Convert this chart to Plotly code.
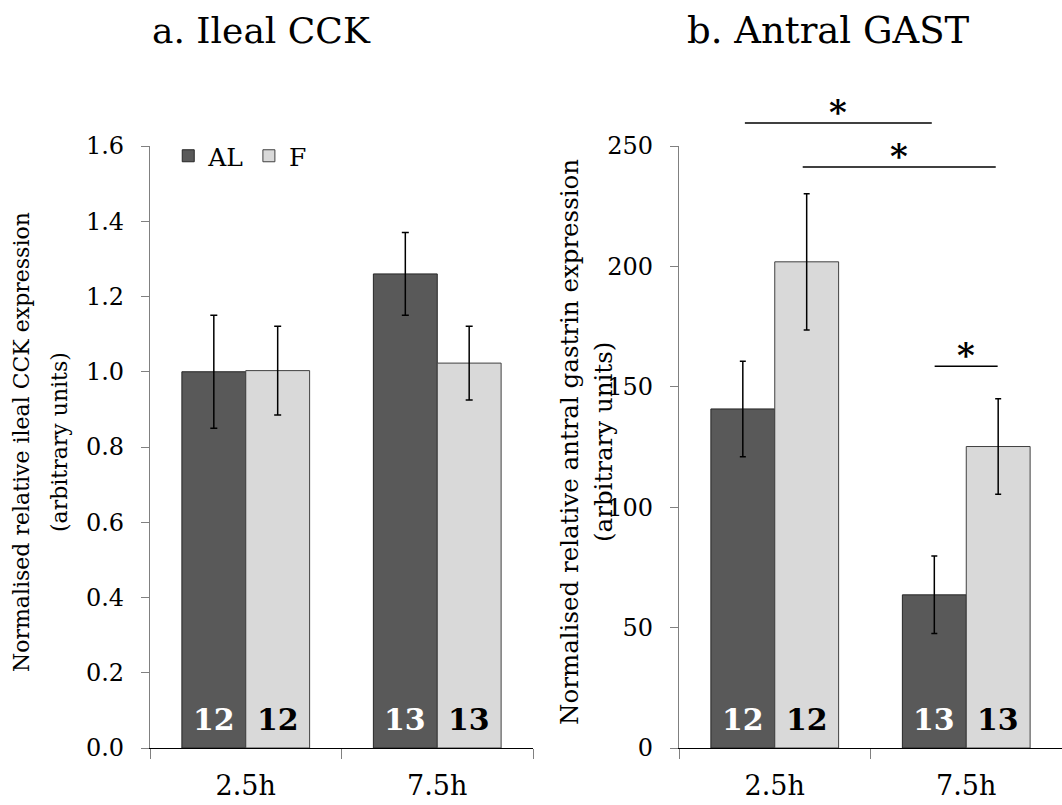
import plotly.graph_objects as go

# ---- data ----
categories = ["2.5h", "7.5h"]
groups = ["AL", "F"]

cck_al = [1.00, 1.26]
cck_al_err = [0.15, 0.11]
cck_f = [1.003, 1.023]
cck_f_err = [0.118, 0.098]

gast_al = [140.8, 63.6]
gast_al_err = [19.8, 16.1]
gast_f = [201.9, 125.2]
gast_f_err = [28.3, 19.8]

n_al = ["12", "13"]
n_f = ["12", "13"]

# significance brackets in right panel: (x start, x end, y level in data units)
sig_x0 = [-0.156, 0.146, 0.835]
sig_x1 = [0.820, 1.154, 1.164]
sig_y = [259.5, 241.3, 158.5]

cck_range = [0, 1.6]
gast_range = [0, 250]

FONT = "DejaVu Serif"
DARK = "#595959"
LIGHT = "#D9D9D9"

# plot geometry helpers (pixel -> paper)
L, R, T, B = 150, 0, 146, 57
PW, PH = 1062 - L - R, 805 - T - B


def px(xp):
    return (xp - L) / PW


fig = go.Figure()


def add_bars(xa, ya, al, al_err, f, f_err, show, ew):
    fig.add_trace(go.Bar(
        x=categories, y=al, name="AL", xaxis=xa, yaxis=ya,
        marker=dict(color=DARK, line=dict(color="#262626", width=1)),
        error_y=dict(type="data", array=al_err, color="black", thickness=1.5, width=ew),
        showlegend=show, legendgroup="AL"))
    fig.add_trace(go.Bar(
        x=categories, y=f, name="F", xaxis=xa, yaxis=ya,
        marker=dict(color=LIGHT, line=dict(color="#404040", width=1)),
        error_y=dict(type="data", array=f_err, color="black", thickness=1.5, width=ew),
        showlegend=show, legendgroup="F"))


add_bars("x", "y", cck_al, cck_al_err, cck_f, cck_f_err, True, 3.5)
add_bars("x2", "y2", gast_al, gast_al_err, gast_f, gast_f_err, False, 3)

# n labels inside bars
annotations = []
for xa, ya in [("x", "y"), ("x2", "y2")]:
    for i, c in enumerate(categories):
        annotations.append(dict(x=c, y=0, xref=xa, yref=ya, text="<b>%s</b>" % n_al[i],
                                showarrow=False, xshift=-32, yshift=9, yanchor="bottom",
                                font=dict(family=FONT, size=30, color="white")))
        annotations.append(dict(x=c, y=0, xref=xa, yref=ya, text="<b>%s</b>" % n_f[i],
                                showarrow=False, xshift=32, yshift=9, yanchor="bottom",
                                font=dict(family=FONT, size=30, color="black")))

# titles
annotations.append(dict(x=px(261), y=1, xref="paper", yref="paper", yshift=116,
                        text="a. Ileal CCK", showarrow=False, xanchor="center", yanchor="middle",
                        font=dict(family=FONT, size=36, color="black")))
annotations.append(dict(x=px(828), y=1, xref="paper", yref="paper", yshift=116,
                        text="b. Antral GAST", showarrow=False, xanchor="center", yanchor="middle",
                        font=dict(family=FONT, size=37, color="black")))

# y axis titles (one annotation per line)
ytitles = [
    (21, "Normalised relative ileal CCK expression", 22),
    (59, "(arbitrary units)", 22),
    (569, "Normalised relative antral gastrin expression", 24.5),
    (603, "(arbitrary units)", 24.5),
]
for xp, txt, sz in ytitles:
    annotations.append(dict(x=px(xp), y=(748 - 442) / PH, xref="paper", yref="paper",
                            text=txt, showarrow=False, textangle=-90,
                            xanchor="center", yanchor="middle",
                            font=dict(family=FONT, size=sz, color="black")))

shapes = []
for x0, x1, yv in zip(sig_x0, sig_x1, sig_y):
    yd = yv / gast_range[1]
    shapes.append(dict(type="line", xref="x2", yref="y2 domain", x0=x0, x1=x1, y0=yd, y1=yd,
                       line=dict(color="black", width=1.5)))
    annotations.append(dict(x=(x0 + x1) / 2, y=yd, xref="x2", yref="y2 domain", text="<b>*</b>",
                            showarrow=False, yanchor="bottom", yshift=-11,
                            font=dict(family=FONT, size=34, color="black")))

axis_x = dict(type="category", tickson="boundaries", ticks="outside", ticklen=10,
              tickcolor="#808080", showline=True, linecolor="black", linewidth=1.3,
              showgrid=False, zeroline=False, ticklabelstandoff=13,
              tickfont=dict(family=FONT, size=27, color="black"), range=[-0.5, 1.5])
axis_y = dict(ticks="outside", ticklen=8, tickcolor="#808080", showline=True,
              linecolor="#808080", linewidth=1.3, showgrid=False, zeroline=False,
              ticklabelstandoff=12, tickfont=dict(family=FONT, size=24, color="black"))

fig.update_layout(
    width=1062, height=805,
    margin=dict(l=L, r=R, t=T, b=B),
    paper_bgcolor="white", plot_bgcolor="white",
    barmode="group", bargap=0.333, bargroupgap=0,
    font=dict(family=FONT, color="black"),
    xaxis=dict(axis_x, domain=[0, px(533)], anchor="y"),
    xaxis2=dict(axis_x, domain=[px(679), 1], anchor="y2"),
    yaxis=dict(axis_y, range=cck_range, dtick=0.2, tickformat=".1f", anchor="x"),
    yaxis2=dict(axis_y, range=gast_range, dtick=50, anchor="x2"),
    legend=dict(orientation="h", x=0.02, y=(748 - 156) / PH, xanchor="left", yanchor="middle",
                font=dict(family=FONT, size=25, color="black"), bgcolor="rgba(0,0,0,0)",
                itemwidth=30, tracegroupgap=0),
    annotations=annotations,
    shapes=shapes,
)

fig.write_html("out.html")
